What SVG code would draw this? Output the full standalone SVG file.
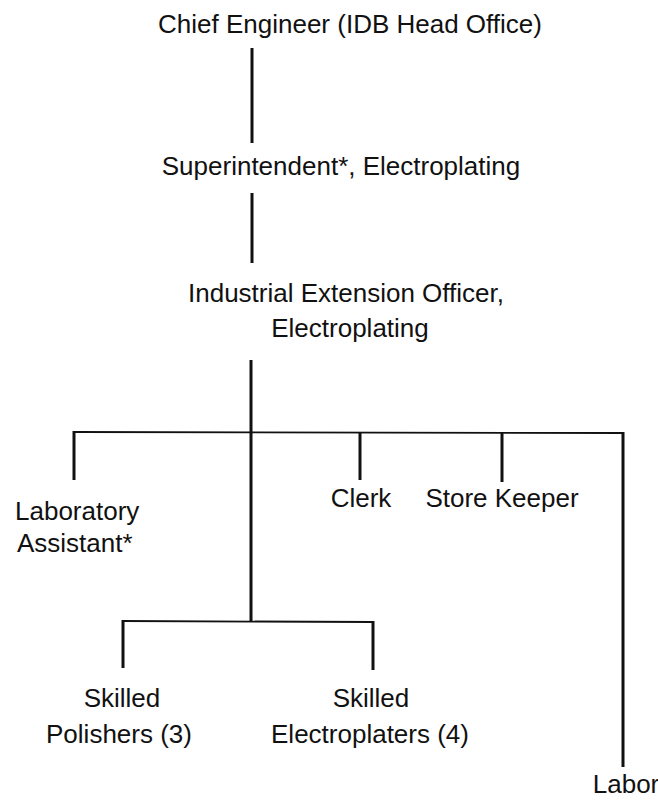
<svg xmlns="http://www.w3.org/2000/svg" width="658" height="800" viewBox="0 0 658 800">
<style>
text{font-family:"Liberation Sans",Arial,sans-serif;font-size:26px;fill:#111}
.c{text-anchor:middle}
.v{stroke:#111;stroke-width:3;fill:none}
.h{stroke:#111;stroke-width:1.8;fill:none}
</style>
<rect width="658" height="800" fill="#fff"/>
<g id="connectors">
<line class="v" x1="252" y1="48" x2="252" y2="143"/>
<line class="v" x1="252" y1="193" x2="252" y2="263"/>
<line class="v" x1="251" y1="360" x2="251" y2="622"/>
<line class="h" x1="74" y1="432" x2="623" y2="433"/>
<line class="v" x1="74" y1="431" x2="74" y2="480"/>
<line class="v" x1="360" y1="433" x2="360" y2="480"/>
<line class="v" x1="502" y1="433" x2="502" y2="482"/>
<line class="v" x1="623" y1="432" x2="623" y2="767"/>
<line class="h" x1="123" y1="621" x2="373" y2="622"/>
<line class="v" x1="123" y1="620" x2="123" y2="668"/>
<line class="v" x1="373" y1="621" x2="373" y2="670"/>
</g>
<g id="chief"><text class="c" x="350" y="33">Chief Engineer (IDB Head Office)</text></g>
<g id="superintendent"><text class="c" x="341" y="175">Superintendent*, Electroplating</text></g>
<g id="extension-officer"><text class="c" x="346" y="302">Industrial Extension Officer,</text><text class="c" x="350" y="337">Electroplating</text></g>
<g id="lab-assistant"><text x="15" y="520">Laboratory</text><text x="17" y="552">Assistant*</text></g>
<g id="clerk"><text class="c" x="361" y="507">Clerk</text></g>
<g id="store-keeper"><text class="c" x="502" y="507">Store Keeper</text></g>
<g id="polishers"><text class="c" x="122" y="707">Skilled</text><text class="c" x="119" y="743">Polishers (3)</text></g>
<g id="electroplaters"><text class="c" x="371" y="707">Skilled</text><text class="c" x="370" y="743">Electroplaters (4)</text></g>
<g id="labor"><text class="c" x="626" y="793">Labor</text></g>
</svg>
